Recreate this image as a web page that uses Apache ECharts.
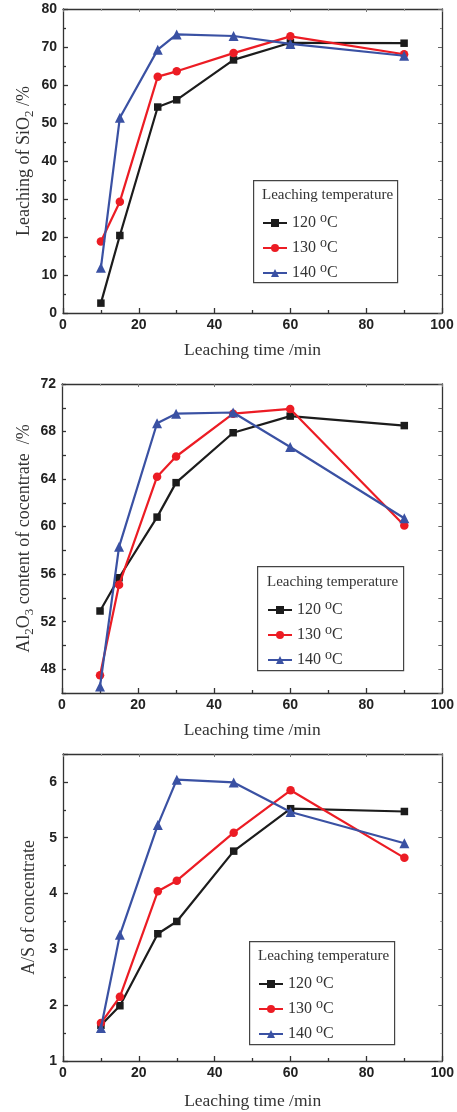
<!DOCTYPE html>
<html>
<head>
<meta charset="utf-8">
<script src="https://cdn.jsdelivr.net/npm/echarts@6/dist/echarts.min.js"></script>
<style>
html,body{margin:0;padding:0;background:#fff;}
#main{width:457px;height:1112px;}
</style>
</head>
<body>
<div id="main"></div>
<script>
var times = [10, 15, 25, 30, 45, 60, 90];
var seriesNames = ['120', '130', '140'];
var xTicks = { min: 0, max: 100, interval: 20 };

var sio2_120 = [2.6, 20.4, 54.2, 56.1, 66.6, 71.1, 71.0];
var sio2_130 = [18.8, 29.3, 62.2, 63.6, 68.4, 72.8, 68.1];
var sio2_140 = [11.9, 51.4, 69.3, 73.3, 72.9, 70.8, 67.7];

var al_120 = [52.9, 55.7, 60.8, 63.7, 67.9, 69.3, 68.5];
var al_130 = [47.5, 55.1, 64.2, 65.9, 69.5, 69.9, 60.1];
var al_140 = [46.55, 58.3, 68.7, 69.5, 69.6, 66.7, 60.7];

var as_120 = [1.64, 1.99, 3.28, 3.50, 4.76, 5.52, 5.47];
var as_130 = [1.68, 2.15, 4.04, 4.23, 5.09, 5.85, 4.64];
var as_140 = [1.59, 3.26, 5.23, 6.04, 5.99, 5.46, 4.90];

var yAxis1 = { min: 0, max: 80, interval: 10, labelStep: 10, labelBase: 0 };
var yAxis2 = { min: 46, max: 72, interval: 2, labelStep: 4, labelBase: 48 };
var yAxis3 = { min: 1, max: 6.5, interval: 1, labelStep: 1, labelBase: 1 };

var colors = ['#1c1c1c', '#ec1c24', '#3a51a3'];
var symbols = ['rect', 'circle', 'triangle'];
var symbolSizes = [7.5, 8.5, 10];

var grids = [
  { left: 63, top: 9, width: 379, height: 304 },
  { left: 62, top: 384, width: 382, height: 309 },
  { left: 63, top: 754, width: 381, height: 307 }
];

var axisColor = '#333';
var serif = '"Liberation Serif", "Times New Roman", serif';
var sans = '"Liberation Sans", Arial, sans-serif';

function pts(arr) { return times.map(function (t, i) { return [t, arr[i]]; }); }

var xAxes = [], yAxes = [], series = [];
var yCfgs = [yAxis1, yAxis2, yAxis3];
var yNames = [
  'Leaching of SiO{sub|2} /%',
  'Al{sub|2}O{sub|3} content of cocentrate  /%',
  'A/S of concentrate'
];
var yNameGaps = [27, 26, 22];
var xNameGaps = [28, 28, 31];
var dataSets = [[sio2_120, sio2_130, sio2_140], [al_120, al_130, al_140], [as_120, as_130, as_140]];

for (var g = 0; g < 3; g++) {
  var lineStyle = { color: axisColor, width: 1.3 };
  xAxes.push({
    type: 'value', gridIndex: g, position: 'bottom',
    min: xTicks.min, max: xTicks.max, interval: xTicks.interval,
    name: 'Leaching time /min', nameLocation: 'middle', nameGap: xNameGaps[g],
    nameMoveOverlap: false,
    nameTextStyle: { fontFamily: serif, fontSize: 17.5, color: '#333' },
    axisLine: { show: true, onZero: false, lineStyle: lineStyle },
    axisTick: { show: true, inside: true, length: 5, lineStyle: lineStyle },
    minorTick: { show: true, splitNumber: 2, length: 3, lineStyle: lineStyle },
    axisLabel: { fontFamily: sans, fontWeight: 'bold', fontSize: 14, color: '#222', margin: 5 },
    splitLine: { show: false }
  });
  xAxes.push({
    type: 'value', gridIndex: g, position: 'top',
    min: xTicks.min, max: xTicks.max, interval: xTicks.interval,
    axisLine: { show: true, onZero: false, lineStyle: lineStyle },
    axisTick: { show: true, inside: true, length: 3, lineStyle: { color: '#777', width: 1 } },
    minorTick: { show: true, splitNumber: 2, length: 2, lineStyle: { color: '#999', width: 1 } },
    axisLabel: { show: false },
    splitLine: { show: false }
  });
  var yc = yCfgs[g];
  var labelFmt = (function (c) {
    return function (v) {
      var r = Math.round((v - c.labelBase) / c.labelStep * 1000) / 1000;
      if (v < c.labelBase || r !== Math.round(r)) return '';
      return String(v);
    };
  })(yc);
  var hasMinor = yc.labelStep === yc.interval;
  yAxes.push({
    type: 'value', gridIndex: g, position: 'left',
    min: yc.min, max: yc.max, interval: yc.interval,
    name: yNames[g], nameLocation: 'middle', nameGap: yNameGaps[g], nameRotate: 90,
    nameMoveOverlap: false,
    nameTextStyle: {
      fontFamily: serif, fontSize: 18, color: '#333', lineHeight: 24,
      rich: { sub: { fontFamily: serif, fontSize: 13, color: '#333', verticalAlign: 'bottom', lineHeight: 13 } }
    },
    axisLine: { show: true, onZero: false, lineStyle: lineStyle },
    axisTick: { show: true, inside: true, length: hasMinor ? 5 : 4, lineStyle: lineStyle },
    minorTick: { show: hasMinor, splitNumber: 2, length: 3, lineStyle: lineStyle },
    axisLabel: { fontFamily: sans, fontWeight: 'bold', fontSize: 14, color: '#222', margin: 6, formatter: labelFmt },
    splitLine: { show: false }
  });
  yAxes.push({
    type: 'value', gridIndex: g, position: 'right',
    min: yc.min, max: yc.max, interval: yc.interval,
    axisLine: { show: true, onZero: false, lineStyle: lineStyle },
    axisTick: { show: true, inside: true, length: 4, lineStyle: { color: '#666', width: 1 } },
    minorTick: { show: hasMinor, splitNumber: 2, length: 2, lineStyle: { color: '#888', width: 1 } },
    axisLabel: { show: false },
    splitLine: { show: false }
  });
  for (var s = 0; s < 3; s++) {
    series.push({
      type: 'line',
      name: seriesNames[s],
      xAxisIndex: g * 2, yAxisIndex: g * 2,
      data: pts(dataSets[g][s]),
      symbol: symbols[s], symbolSize: symbolSizes[s],
      showAllSymbol: true,
      itemStyle: { color: colors[s] },
      lineStyle: { color: colors[s], width: 2.2 },
      z: 3 + s,
      animation: false
    });
  }
}

var legendPos = [
  { left: 262, top: 211 },
  { left: 267, top: 598 },
  { left: 258, top: 972 }
];
var legends = legendPos.map(function (p) {
  return {
    orient: 'vertical', left: p.left, top: p.top, padding: 0,
    itemWidth: 24, itemHeight: 10, itemGap: 1,
    data: seriesNames,
    formatter: function (n) { return n + ' {sup|o}C'; },
    textStyle: {
      fontFamily: serif, fontSize: 16, color: '#333', lineHeight: 24,
      rich: { sup: { fontFamily: serif, fontSize: 14, color: '#333', verticalAlign: 'top', lineHeight: 10 } }
    },
    selectedMode: false
  };
});

var boxes = [
  { x: 253, y: 180, w: 144, h: 102, tx: 262, ty: 197 },
  { x: 257, y: 566, w: 146, h: 104, tx: 267, ty: 584 },
  { x: 249, y: 941, w: 145, h: 103, tx: 258, ty: 958 }
];
var graphics = [];
boxes.forEach(function (b) {
  graphics.push({
    type: 'rect', left: b.x, top: b.y, z: 10,
    shape: { width: b.w, height: b.h },
    style: { fill: 'rgba(0,0,0,0)', stroke: '#444', lineWidth: 1.2 }
  });
  graphics.push({
    type: 'text', left: b.tx, top: b.ty - 9, z: 10,
    style: { text: 'Leaching temperature', font: '15px ' + serif, fill: '#333' }
  });
});

var chart = echarts.init(document.getElementById('main'));
chart.setOption({
  animation: false,
  backgroundColor: '#fff',
  grid: grids,
  xAxis: xAxes,
  yAxis: yAxes,
  legend: legends,
  graphic: graphics,
  series: series
});
</script>
</body>
</html>
